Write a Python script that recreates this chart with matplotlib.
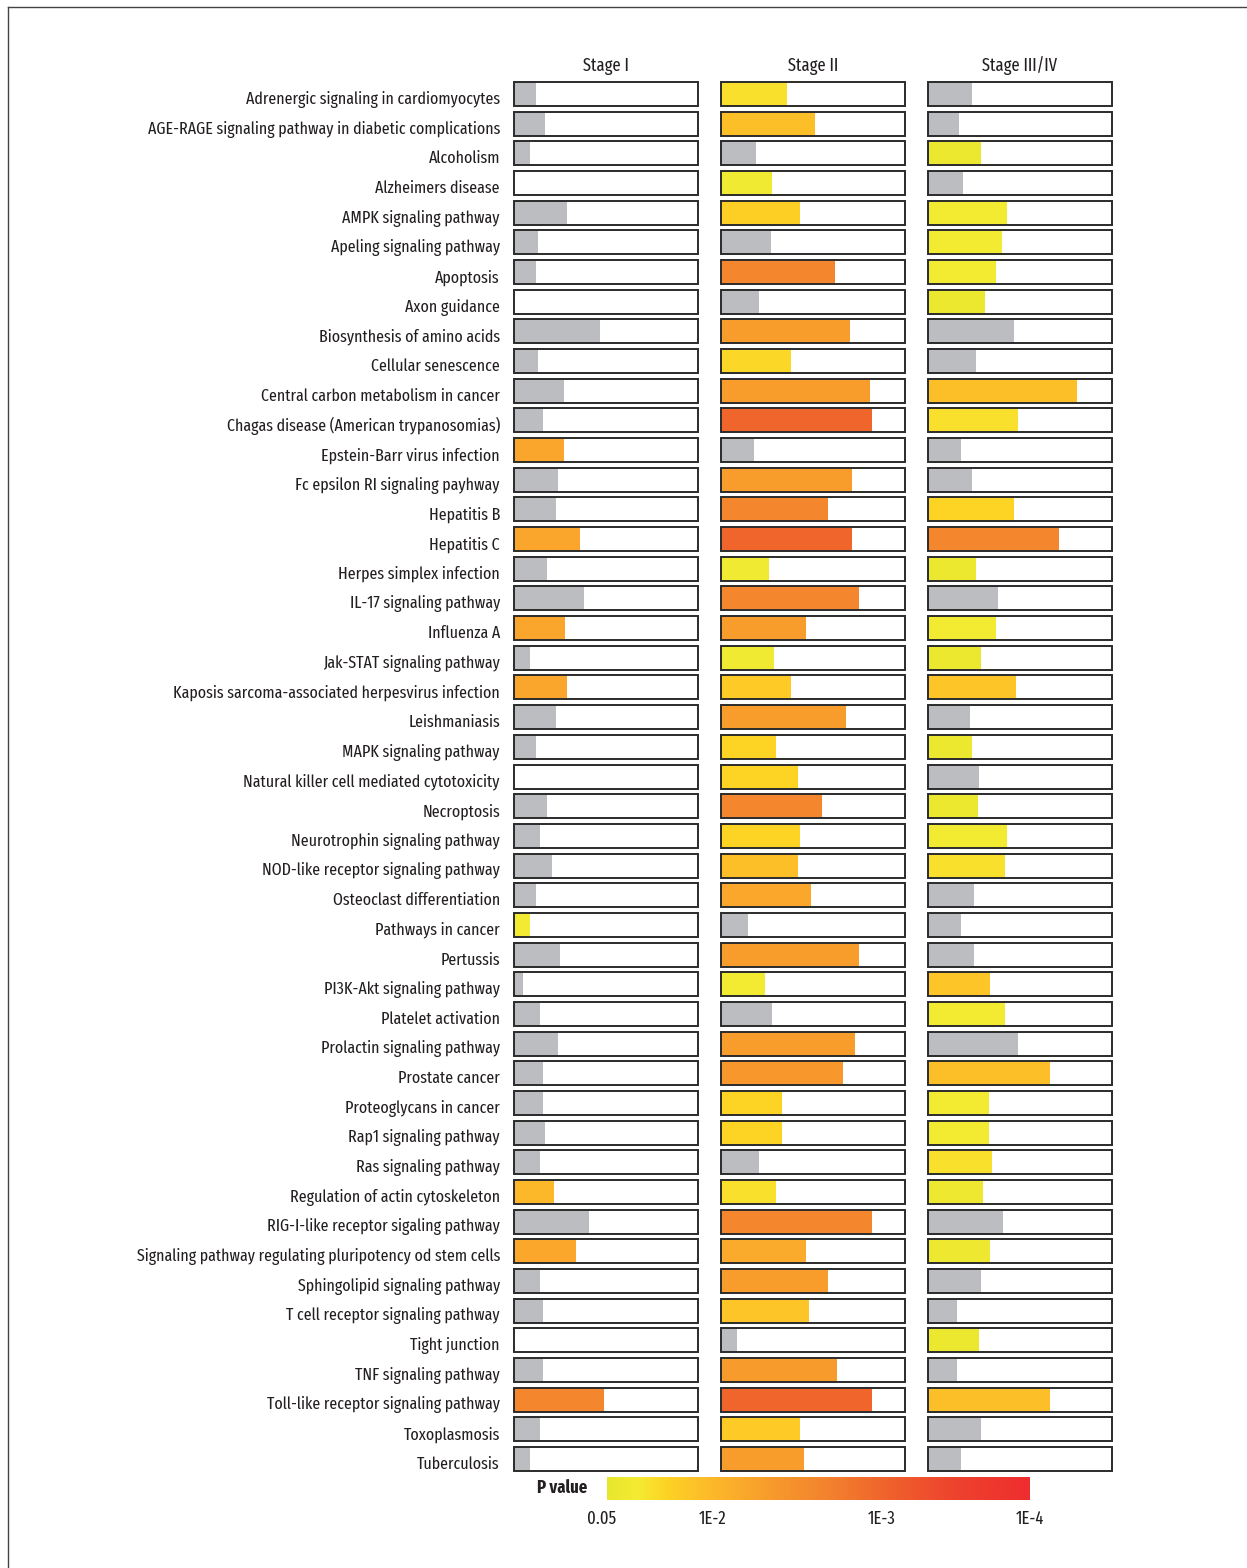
import numpy as np
import matplotlib
matplotlib.use("Agg")
import matplotlib.pyplot as plt
import matplotlib.transforms as mtransforms
from matplotlib.colors import LinearSegmentedColormap
from matplotlib import font_manager

# ---------------- data ----------------
pathways = [
    "Adrenergic signaling in cardiomyocytes",
    "AGE-RAGE signaling pathway in diabetic complications",
    "Alcoholism",
    "Alzheimers disease",
    "AMPK signaling pathway",
    "Apeling signaling pathway",
    "Apoptosis",
    "Axon guidance",
    "Biosynthesis of amino acids",
    "Cellular senescence",
    "Central carbon metabolism in cancer",
    "Chagas disease (American trypanosomias)",
    "Epstein-Barr virus infection",
    "Fc epsilon RI signaling payhway",
    "Hepatitis B",
    "Hepatitis C",
    "Herpes simplex infection",
    "IL-17 signaling pathway",
    "Influenza A",
    "Jak-STAT signaling pathway",
    "Kaposis sarcoma-associated herpesvirus infection",
    "Leishmaniasis",
    "MAPK signaling pathway",
    "Natural killer cell mediated cytotoxicity",
    "Necroptosis",
    "Neurotrophin signaling pathway",
    "NOD-like receptor signaling pathway",
    "Osteoclast differentiation",
    "Pathways in cancer",
    "Pertussis",
    "PI3K-Akt signaling pathway",
    "Platelet activation",
    "Prolactin signaling pathway",
    "Prostate cancer",
    "Proteoglycans in cancer",
    "Rap1 signaling pathway",
    "Ras signaling pathway",
    "Regulation of actin cytoskeleton",
    "RIG-I-like receptor sigaling pathway",
    "Signaling pathway regulating pluripotency od stem cells",
    "Sphingolipid signaling pathway",
    "T cell receptor signaling pathway",
    "Tight junction",
    "TNF signaling pathway",
    "Toll-like receptor signaling pathway",
    "Toxoplasmosis",
    "Tuberculosis",
]

stages = ["Stage I", "Stage II", "Stage III/IV"]

# bar length (fraction of box)
stage1_len = [0.12, 0.17, 0.09, 0.00, 0.29, 0.13, 0.12, 0.00, 0.47, 0.13,
              0.27, 0.16, 0.27, 0.24, 0.23, 0.36, 0.18, 0.38, 0.28, 0.09,
              0.29, 0.23, 0.12, 0.00, 0.18, 0.14, 0.21, 0.12, 0.09, 0.25,
              0.05, 0.14, 0.24, 0.16, 0.16, 0.17, 0.14, 0.22, 0.41, 0.34,
              0.14, 0.16, 0.00, 0.16, 0.49, 0.14, 0.09]
stage2_len = [0.36, 0.51, 0.19, 0.28, 0.43, 0.27, 0.62, 0.21, 0.70, 0.38,
              0.81, 0.82, 0.18, 0.71, 0.58, 0.71, 0.26, 0.75, 0.46, 0.29,
              0.38, 0.68, 0.30, 0.42, 0.55, 0.43, 0.42, 0.49, 0.15, 0.75,
              0.24, 0.28, 0.73, 0.66, 0.33, 0.33, 0.21, 0.30, 0.82, 0.46,
              0.58, 0.48, 0.09, 0.63, 0.82, 0.43, 0.45]
stage3_len = [0.24, 0.17, 0.29, 0.19, 0.43, 0.40, 0.37, 0.31, 0.47, 0.26,
              0.81, 0.49, 0.18, 0.24, 0.47, 0.71, 0.26, 0.38, 0.37, 0.29,
              0.48, 0.23, 0.24, 0.28, 0.27, 0.43, 0.42, 0.25, 0.18, 0.25,
              0.34, 0.42, 0.49, 0.66, 0.33, 0.33, 0.35, 0.30, 0.41, 0.34,
              0.29, 0.16, 0.28, 0.16, 0.66, 0.29, 0.18]

# p values (None = not significant, drawn grey)
N = None
stage1_p = [N, N, N, N, N, N, N, N, N, N,
            N, N, 0.0060, N, N, 0.0060, N, N, 0.0060, N,
            0.0060, N, N, N, N, N, N, N, 0.034, N,
            N, N, N, N, N, N, N, 0.0100, N, 0.0063,
            N, N, N, N, 0.0024, N, N]
stage2_p = [0.026, 0.012, N, 0.036, 0.018, N, 0.0024, N, 0.0047, 0.022,
            0.0047, 0.0010, N, 0.0047, 0.0024, 0.0010, 0.036, 0.0024, 0.0047, 0.036,
            0.016, 0.0047, 0.020, 0.020, 0.0024, 0.020, 0.012, 0.0063, N, 0.0047,
            0.034, N, 0.0047, 0.0040, 0.020, 0.020, N, 0.026, 0.0024, 0.0070,
            0.0047, 0.014, N, 0.0045, 0.0010, 0.016, 0.0047]
stage3_p = [N, N, 0.044, N, 0.034, 0.034, 0.034, 0.044, N, N,
            0.012, 0.026, N, N, 0.020, 0.0024, 0.044, N, 0.034, 0.044,
            0.014, N, 0.044, N, 0.044, 0.034, 0.026, N, N, N,
            0.014, 0.034, N, 0.012, 0.034, 0.034, 0.026, 0.040, N, 0.040,
            N, N, 0.044, N, 0.012, N, N]

cbar_ticks_p = [0.05, 1e-2, 1e-3, 1e-4]
cbar_tick_labels = ["0.05", "1E-2", "1E-3", "1E-4"]

# ---------------- font selection ----------------
def narrowness(f):
    nm = f.name.lower().replace(" ", "")
    st = str(f.stretch).lower().replace("-", "")
    fn = f.fname.lower().replace("-", "").replace("_", "")
    keys = nm + " " + st + " " + fn
    if "ultracondensed" in keys:
        return 9
    if "extracondensed" in keys:
        return 1
    if "semicondensed" in keys:
        return 3
    if "condensed" in keys or "narrow" in keys:
        return 2
    return 9


def pick_font(bold=False):
    cands = []
    for f in font_manager.fontManager.ttflist:
        nm = f.name.lower()
        fn = f.fname.lower()
        if "mono" in nm or "mono" in fn or "code" in fn or ("serif" in nm and "sans" not in nm):
            continue
        if "display" in fn or "cjk" in fn or "math" in fn:
            continue
        if f.style != "normal":
            continue
        w = f.weight if isinstance(f.weight, int) else (700 if "bold" in str(f.weight) else 400)
        if bold and not (600 <= w <= 800):
            continue
        if not bold and not (380 <= w <= 420):
            continue
        r = narrowness(f)
        if r < 9:
            pref = 0 if ("noto" in fn or "liberation" in fn or "dejavu" in fn) else 1
            cands.append((r, pref, f.fname))
    if cands:
        cands.sort()
        return font_manager.FontProperties(fname=cands[0][2])
    return font_manager.FontProperties(family="Roboto", weight="bold" if bold else "normal")


fp_reg = pick_font(False)
fp_bold = pick_font(True)

GREY = "#bcbdc0"
TXT = "#231f20"
cmap = LinearSegmentedColormap.from_list("pv", [
    (0.00, "#e8e62e"), (0.07, "#f5eb33"), (0.14, "#fdd324"),
    (0.25, "#fdb82a"), (0.40, "#f7982c"), (0.52, "#f3832e"),
    (0.65, "#f0652c"), (0.82, "#ee432e"), (1.00, "#ee2d2f")])

anchor_logp = np.array([-np.log10(0.05), 2.0, 3.0, 4.0])
anchor_pos = np.array([0.0, 0.25, 0.65, 1.0])


def p_to_pos(p):
    return float(np.interp(-np.log10(p), anchor_logp, anchor_pos))


W, H = 1247, 1568
fig = plt.figure(figsize=(W / 100, H / 100), dpi=100)

# fit label font size so that the longest label spans ~367 px like the reference
renderer = fig.canvas.get_renderer()
probe = fig.text(0, 0, max(pathways, key=len), fontproperties=fp_reg, fontsize=10)
probe_w = probe.get_window_extent(renderer).width
probe.remove()
LABEL_FS = float(min(13.5, 10.0 * 367.0 / probe_w))

# outer frame lines (top & left)
fig.add_artist(plt.Line2D([8 / W, 1.0], [1 - 7 / H, 1 - 7 / H], color="#444444", lw=1.0))
fig.add_artist(plt.Line2D([8 / W, 8 / W], [0.0, 1 - 7 / H], color="#444444", lw=1.0))

n = len(pathways)
row_px = (1459 - 94) / (n - 1)
top_px = 94 - row_px / 2
ax_h = n * row_px / H
ax_bottom = 1 - (top_px + n * row_px) / H
box_h = 24 / row_px

lefts = [513, 720, 927]
box_w = 186
lens = [stage1_len, stage2_len, stage3_len]
pvals = [stage1_p, stage2_p, stage3_p]
y = np.arange(n)

for k in range(3):
    ax = fig.add_axes([lefts[k] / W, ax_bottom, box_w / W, ax_h])
    ax.set_xlim(-0.004, 1.004)
    ax.set_ylim(n - 0.5, -0.5)
    ax.axis("off")
    colors = [GREY if p is None else cmap(p_to_pos(p)) for p in pvals[k]]
    ax.barh(y, [1.0] * n, height=box_h, color="white", edgecolor="none", zorder=1)
    ax.barh(y, lens[k], height=box_h, color=colors, edgecolor="none", zorder=2)
    ax.barh(y, [1.0] * n, height=box_h, fill=False, edgecolor="#2b2b2b", linewidth=1.4, zorder=3)
    ax.text(0.5, -0.64, stages[k], ha="center", va="bottom", fontproperties=fp_reg,
            fontsize=LABEL_FS + 0.5, color=TXT)
    if k == 0:
        for i, name in enumerate(pathways):
            ax.text(-0.075, i + 0.18, name, ha="right", va="center", fontproperties=fp_reg,
                    fontsize=LABEL_FS, color=TXT, clip_on=False)

# colour bar
cb_ax = fig.add_axes([607 / W, 1 - 1500 / H, (1030 - 607) / W, 23 / H])
grad = np.linspace(0, 1, 512).reshape(1, -1)
cb_ax.imshow(grad, aspect="auto", cmap=cmap, extent=[0, 1, 0, 1])
cb_ax.set_xlim(0, 1)
cb_ax.set_yticks([])
cb_ax.set_xticks([p_to_pos(p) for p in cbar_ticks_p])
cb_ax.set_xticklabels(cbar_tick_labels, color=TXT)
for lab in cb_ax.get_xticklabels():
    lab.set_fontproperties(fp_reg)
    lab.set_fontsize(LABEL_FS + 0.5)
cb_ax.tick_params(axis="x", length=0, pad=7)
# nudge the first label slightly left, as in the reference
first = cb_ax.get_xticklabels()[0]
first.set_transform(first.get_transform() + mtransforms.ScaledTranslation(-5 / 100, 0, fig.dpi_scale_trans))
for s in cb_ax.spines.values():
    s.set_visible(False)
fig.text(562 / W, 1 - 1488 / H, "P value", ha="center", va="center",
         fontproperties=fp_bold, fontsize=LABEL_FS + 0.5, color=TXT)

fig.savefig("out.png", dpi=100)
